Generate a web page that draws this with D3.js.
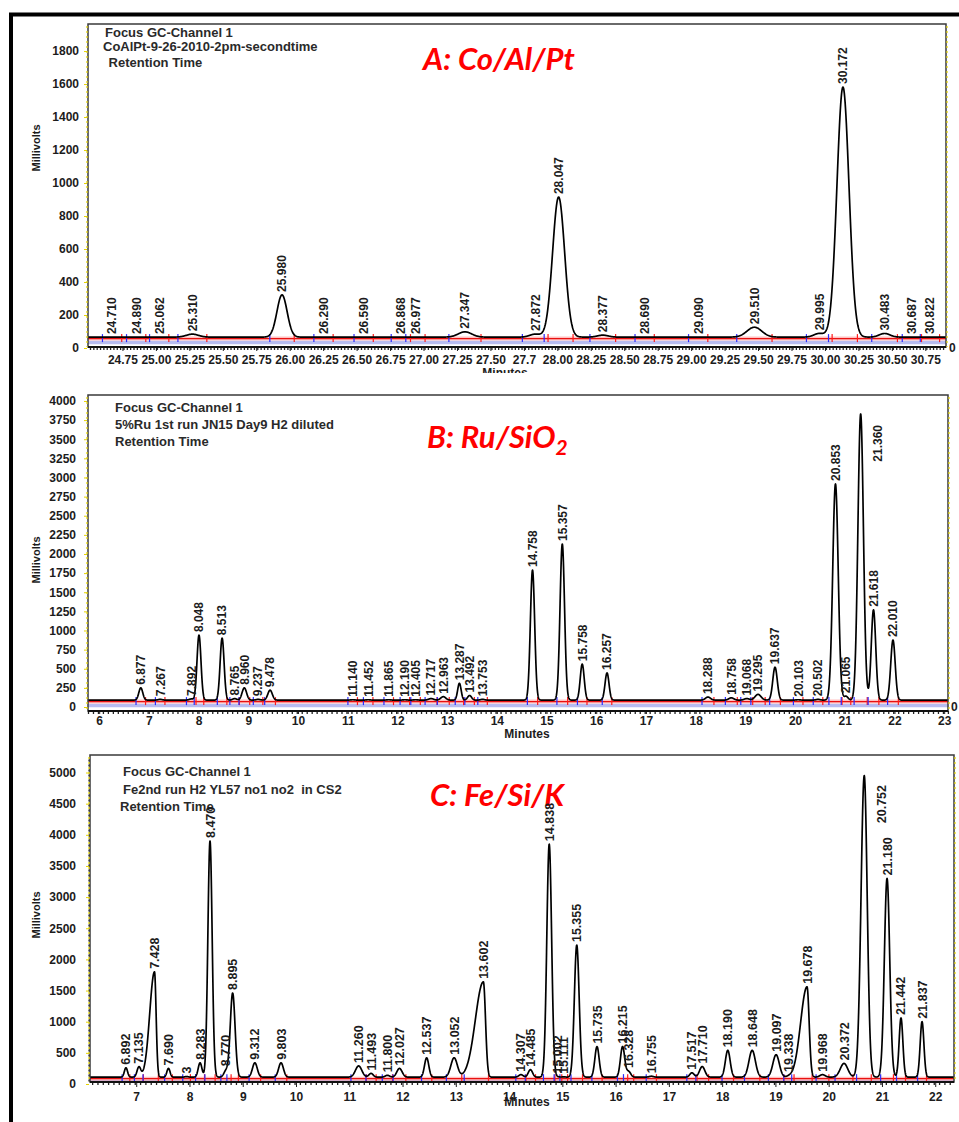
<!DOCTYPE html>
<html>
<head>
	<title>GC chromatograms A/B/C</title>
	<meta charset="utf-8">
	<style type="text/css">
		body { margin: 0; background: #fff; }
		svg { display: block; }
	</style>
</head>
<body>
<script type="text/javascript" src="https://cdn.jsdelivr.net/npm/d3@7/dist/d3.min.js"></script>
<script type="text/javascript">
	/*========= DATA: A  Co/Al/Pt =========*/
	var headerA = ["Focus GC-Channel 1", "CoAlPt-9-26-2010-2pm-secondtime", " Retention Time"];
	var timesA  = [24.710, 24.890, 25.062, 25.310, 25.980, 26.290, 26.590, 26.868, 26.977, 27.347, 27.872,
	               28.047, 28.377, 28.690, 29.090, 29.510, 29.995, 30.172, 30.483, 30.687, 30.822];
	var labelsA = ["24.710", "24.890", "25.062", "25.310", "25.980", "26.290", "26.590", "26.868", "26.977", "27.347", "27.872",
	               "28.047", "28.377", "28.690", "29.090", "29.510", "29.995", "30.172", "30.483", "30.687", "30.822"];
	var apexA   = [66, 66, 66, 84, 322, 66, 66, 66, 66, 98, 84, 915, 78, 66, 66, 126, 88, 1582, 88, 66, 66];
	var sigmaA  = [0.03, 0.03, 0.03, 0.045, 0.038, 0.03, 0.03, 0.03, 0.03, 0.05, 0.04,
	               0.045, 0.04, 0.03, 0.03, 0.055, 0.04, 0.045, 0.04, 0.03, 0.03];
	var baseA = 66;
	var xTicksA = [24.75, 25.00, 25.25, 25.50, 25.75, 26.00, 26.25, 26.50, 26.75, 27.00, 27.25, 27.50, 27.75,
	               28.00, 28.25, 28.50, 28.75, 29.00, 29.25, 29.50, 29.75, 30.00, 30.25, 30.50, 30.75];
	var xTickLabelsA = ["24.75", "25.00", "25.25", "25.50", "25.75", "26.00", "26.25", "26.50", "26.75", "27.00", "27.25", "27.50", "27.7",
	                    "28.00", "28.25", "28.50", "28.75", "29.00", "29.25", "29.50", "29.75", "30.00", "30.25", "30.50", "30.75"];
	var yTicksA = [0, 200, 400, 600, 800, 1000, 1200, 1400, 1600, 1800];

	/*========= DATA: B  Ru/SiO2 =========*/
	var headerB = ["Focus GC-Channel 1", "5%Ru 1st run JN15 Day9 H2 diluted", "Retention Time"];
	var timesB  = [6.877, 7.267, 7.892, 8.048, 8.513, 8.765, 8.960, 9.237, 9.478, 11.140, 11.452, 11.865, 12.190, 12.405,
	               12.717, 12.963, 13.287, 13.492, 13.753, 14.758, 15.357, 15.758, 16.257, 18.288, 18.758, 19.068, 19.295,
	               19.637, 20.103, 20.502, 20.853, 21.065, 21.360, 21.618, 22.010];
	var labelsB = ["6.877", "7.267", "7.892", "8.048", "8.513", "8.765", "8.960", "9.237", "9.478", "11.140", "11.452", "11.865", "12.190", "12.405",
	               "12.717", "12.963", "13.287", "13.492", "13.753", "14.758", "15.357", "15.758", "16.257", "18.288", "18.758", "19.068", "19.295",
	               "19.637", "20.103", "20.502", "20.853", "21.065", "21.360", "21.618", "22.010"];
	var apexB   = [250, 100, 105, 940, 900, 110, 250, 100, 220, 95, 95, 95, 95, 95,
	               110, 135, 310, 150, 100, 1790, 2130, 560, 445, 130, 120, 110, 165,
	               520, 95, 100, 2915, 140, 3830, 1270, 875];
	var sigmaB  = [0.04, 0.04, 0.04, 0.04, 0.04, 0.04, 0.045, 0.04, 0.045, 0.04, 0.04, 0.04, 0.04, 0.04,
	               0.05, 0.05, 0.035, 0.04, 0.04, 0.043, 0.045, 0.04, 0.04, 0.05, 0.05, 0.05, 0.06,
	               0.045, 0.04, 0.04, 0.055, 0.04, 0.055, 0.045, 0.045];
	var baseB = 90;
	var xTicksB = [6, 7, 8, 9, 10, 11, 12, 13, 14, 15, 16, 17, 18, 19, 20, 21, 22, 23];
	var xTickLabelsB = ["6", "7", "8", "9", "10", "11", "12", "13", "14", "15", "16", "17", "18", "19", "20", "21", "22", "23"];
	var yTicksB = [0, 250, 500, 750, 1000, 1250, 1500, 1750, 2000, 2250, 2500, 2750, 3000, 3250, 3500, 3750, 4000];

	/*========= DATA: C  Fe/Si/K =========*/
	var headerC = ["Focus GC-Channel 1", "Fe2nd run H2 YL57 no1 no2  in CS2", "Retention Time"];
	var timesC  = [6.892, 7.135, 7.428, 7.690, 8.030, 8.283, 8.470, 8.770, 8.895, 9.312, 9.803, 11.260, 11.493, 11.800,
	               12.027, 12.537, 13.052, 13.602, 14.307, 14.485, 14.838, 15.002, 15.111, 15.355, 15.735, 16.215,
	               16.328, 16.755, 17.517, 17.710, 18.190, 18.648, 19.097, 19.338, 19.678, 19.968, 20.372, 20.752,
	               21.180, 21.442, 21.837];
	var labelsC = ["6.892", "7.135", "7.428", "7.690", "3", "8.283", "8.470", "8.770", "8.895", "9.312", "9.803", "11.260", "11.493", "11.800",
	               "12.027", "12.537", "13.052", "13.602", "14.307", "14.485", "14.838", "15.002", "15.111", "15.355", "15.735", "16.215",
	               "16.328", "16.755", "17.517", "17.710", "18.190", "18.648", "19.097", "19.338", "19.678", "19.968", "20.372", "20.752",
	               "21.180", "21.442", "21.837"];
	var apexC   = [260, 270, 1800, 250, 120, 340, 3900, 210, 1460, 340, 340, 290, 170, 140,
	               250, 420, 420, 1640, 150, 230, 3850, 115, 115, 2230, 600, 600,
	               200, 125, 180, 280, 540, 540, 470, 120, 1560, 150, 330, 4950,
	               3300, 1060, 1000];
	var sigmaLeftC  = [0.03, 0.035, 0.09, 0.03, 0.03, 0.035, 0.04, 0.04, 0.045, 0.045, 0.045, 0.06, 0.04, 0.04,
	                   0.05, 0.04, 0.06, 0.15, 0.04, 0.04, 0.045, 0.03, 0.03, 0.045, 0.04, 0.04,
	                   0.04, 0.04, 0.04, 0.05, 0.045, 0.06, 0.06, 0.04, 0.12, 0.05, 0.07, 0.06,
	                   0.05, 0.035, 0.035];
	var sigmaRightC = [0.03, 0.035, 0.03, 0.03, 0.03, 0.035, 0.04, 0.04, 0.045, 0.045, 0.045, 0.06, 0.04, 0.04,
	                   0.05, 0.04, 0.06, 0.04, 0.04, 0.04, 0.045, 0.03, 0.03, 0.045, 0.04, 0.04,
	                   0.04, 0.04, 0.04, 0.05, 0.045, 0.06, 0.06, 0.04, 0.04, 0.05, 0.07, 0.055,
	                   0.05, 0.035, 0.035];
	var baseC = 110;
	var xTicksC = [7, 8, 9, 10, 11, 12, 13, 14, 15, 16, 17, 18, 19, 20, 21, 22];
	var xTickLabelsC = ["7", "8", "9", "10", "11", "12", "13", "14", "15", "16", "17", "18", "19", "20", "21", "22"];
	var yTicksC = [0, 500, 1000, 1500, 2000, 2500, 3000, 3500, 4000, 4500, 5000];

	/*========= SVG =========*/
	var FONT = "'Liberation Sans', Arial, sans-serif";
	var w = 959, h = 1122;
	var svg = d3.select("body").append("svg")
		.attr("width", w).attr("height", h)
		.style("font-family", FONT);

	// outer thick frame
	svg.append("rect")
		.attr("x", 11).attr("y", 14.5)
		.attr("width", 962).attr("height", 1122)
		.attr("fill", "none").attr("stroke", "#000").attr("stroke-width", 4);

	/*========= ONE CHROMATOGRAM =========*/
	function drawPanel(o) {
		var x = d3.scaleLinear().domain(o.xDomain).range([o.left, o.right]);
		var y = d3.scaleLinear().domain([0, o.yTop]).range([o.y0, o.top]);
		var g = svg.append("g").attr("class", "panel-" + o.id);

		function signal(t) {
			var v = o.base;
			for (var i = 0; i < o.times.length; i++) {
				var s = t < o.times[i] ? o.sigL[i] : o.sigR[i];
				var d = (t - o.times[i]) / s;
				if (Math.abs(d) < 8) v += (o.apex[i] - o.base) * Math.exp(-0.5 * d * d);
			}
			return v;
		}

		g.append("clipPath").attr("id", "clip-" + o.id)
			.append("rect")
			.attr("x", o.left).attr("y", o.top)
			.attr("width", o.right - o.left).attr("height", o.bottom - o.top);
		var plot = g.append("g").attr("clip-path", "url(#clip-" + o.id + ")");

		// baseline bands (integration baseline)
		var by = y(o.base);
		plot.append("line")
			.attr("x1", o.left).attr("x2", o.right)
			.attr("y1", by + o.blueOff).attr("y2", by + o.blueOff)
			.attr("stroke", "#b7bcf0").attr("stroke-width", 3.5);
		plot.append("line")
			.attr("x1", o.left).attr("x2", o.right)
			.attr("y1", by + 1.5).attr("y2", by + 1.5)
			.attr("stroke", "#ff9a9a").attr("stroke-width", 4).attr("opacity", 0.6);
		plot.append("line")
			.attr("x1", o.left).attr("x2", o.right)
			.attr("y1", by + 1.5).attr("y2", by + 1.5)
			.attr("stroke", "#e81010").attr("stroke-width", 1.2);

		// peak start / end markers
		o.times.forEach(function (t, i) {
			[[t - 2.4 * o.sigL[i], "#2a2aff"], [t + 2.4 * o.sigR[i], "#ff1a1a"]].forEach(function (m) {
				plot.append("line")
					.attr("x1", x(m[0])).attr("x2", x(m[0]))
					.attr("y1", by - 3).attr("y2", by + 5)
					.attr("stroke", m[1]).attr("stroke-width", 1.2);
			});
		});

		// detector trace
		var ts = d3.range(o.xDomain[0], o.xDomain[1], 0.003);
		var line = d3.line()
			.x(function (t) { return x(t); })
			.y(function (t) { return y(signal(t)); });
		plot.append("path").datum(ts)
			.attr("d", line)
			.attr("fill", "none").attr("stroke", "#000")
			.attr("stroke-width", 1.7).attr("stroke-linejoin", "round");

		// frame
		g.append("rect")
			.attr("x", o.left).attr("y", o.top)
			.attr("width", o.right - o.left).attr("height", o.bottom - o.top)
			.attr("fill", "none").attr("stroke", "#3a3a3a").attr("stroke-width", 1.5);
		[o.left - 1, o.right + 1].forEach(function (xx) {
			g.append("line")
				.attr("x1", xx).attr("x2", xx).attr("y1", o.top + 2).attr("y2", o.bottom)
				.attr("stroke", "#e6d400").attr("stroke-width", 1.2).attr("stroke-dasharray", "2,3");
		});
		if (o.darkLeft) {
			g.append("line")
				.attr("x1", o.left - 1).attr("x2", o.left - 1).attr("y1", o.top + 2).attr("y2", o.bottom)
				.attr("stroke", "#222").attr("stroke-width", 1.2)
				.attr("stroke-dasharray", "2,3").attr("stroke-dashoffset", 2.5);
		}

		// x axis (tick labels sit a few px right of the data positions, as in the print-out)
		var minor = d3.axisBottom(x).tickValues(d3.range(o.xDomain[0] + o.minorOff, o.xDomain[1], o.minorStep))
			.tickFormat("").tickSize(3);
		var gm = g.append("g").attr("transform", "translate(0," + o.bottom + ")").call(minor);
		gm.select(".domain").remove();
		gm.selectAll("line").attr("stroke", "#222").attr("stroke-width", 1.3);

		var xAxis = d3.axisBottom(x).tickValues(o.xTicks)
			.tickFormat(function (d, i) { return o.xTickLabels[i]; })
			.tickSize(o.tickLen).tickPadding(o.tickPad);
		var gx = g.append("g").attr("transform", "translate(" + o.tickDx + "," + o.bottom + ")").call(xAxis);
		gx.select(".domain").remove();
		gx.attr("font-family", FONT).attr("font-size", 12).attr("font-weight", "bold");
		gx.selectAll("line").attr("stroke", "#222");
		gx.selectAll("text").attr("fill", "#1c1c1c");
		g.append("line")
			.attr("x1", o.left).attr("x2", o.right).attr("y1", o.bottom).attr("y2", o.bottom)
			.attr("stroke", "#111").attr("stroke-width", 2);

		// y axis
		var yAxis = d3.axisLeft(y).tickValues(o.yTicks).tickSize(3).tickPadding(o.yPad)
			.tickFormat(d3.format("d"));
		var gy = g.append("g").attr("transform", "translate(" + (o.left - 1) + ",0)").call(yAxis);
		gy.select(".domain").remove();
		gy.attr("font-family", FONT).attr("font-size", 12).attr("font-weight", "bold");
		gy.selectAll("line").attr("stroke", "#e6d400");
		gy.selectAll("text").attr("fill", "#1c1c1c");
		if (o.rightZero) {
			g.append("text")
				.attr("x", o.right + 3).attr("y", y(0)).attr("dy", "0.35em")
				.attr("font-size", 12).attr("font-weight", "bold").attr("fill", "#1c1c1c")
				.text("0");
		}

		// axis titles
		g.append("text")
			.attr("transform", "translate(" + o.mv[0] + "," + o.mv[1] + ") rotate(-90)")
			.attr("text-anchor", "middle")
			.attr("font-size", 11).attr("font-weight", "bold").attr("fill", "#1c1c1c")
			.text("Millivolts");
		var mt = g.append("text")
			.attr("x", o.mins[0]).attr("y", o.mins[1])
			.attr("text-anchor", "middle")
			.attr("font-size", 12).attr("font-weight", "bold").attr("fill", "#1c1c1c")
			.text("Minutes");
		if (o.minsClip) {
			g.append("clipPath").attr("id", "mclip-" + o.id)
				.append("rect").attr("x", 0).attr("y", 0).attr("width", w).attr("height", o.minsClip);
			mt.attr("clip-path", "url(#mclip-" + o.id + ")");
		}

		// header text
		o.header.forEach(function (s, i) {
			g.append("text")
				.attr("x", o.head[i][0]).attr("y", o.head[i][1])
				.attr("font-size", 13).attr("font-weight", "bold").attr("fill", "#2a2a2a")
				.attr("xml:space", "preserve")
				.text(s);
		});

		// red panel title
		var tt = g.append("text")
			.attr("x", o.title[0]).attr("y", o.title[1])
			.attr("font-family", "Lato, 'Open Sans', sans-serif")
			.attr("font-size", 31).attr("font-weight", "bold").attr("font-style", "italic")
			.attr("fill", "#ff0000");
		tt.append("tspan").text(o.titleText);
		if (o.titleSub) {
			tt.append("tspan").attr("dy", 7).attr("font-size", 21).text(o.titleSub);
		}

		// peak labels (rotated retention times)
		var lg = g.append("g")
			.attr("font-size", o.labelSize).attr("font-weight", "bold").attr("fill", "#1c1c1c");
		o.times.forEach(function (t, i) {
			var px = x(t), py = y(signal(t)) - 3;
			var txt = lg.append("text").attr("dy", "0.36em").text(o.labels[i]);
			var len = txt.node().getComputedTextLength();
			if (py - len < o.top + 6) {
				txt.attr("text-anchor", "end")
					.attr("transform", "translate(" + (px + 17) + "," + (o.top + 30) + ") rotate(-90)");
			} else {
				txt.attr("text-anchor", "start")
					.attr("transform", "translate(" + px + "," + py + ") rotate(-90)");
			}
		});
	}

	drawPanel({
		id: "A", times: timesA, labels: labelsA, apex: apexA, sigL: sigmaA, sigR: sigmaA, base: baseA,
		xTicks: xTicksA, xTickLabels: xTickLabelsA, yTicks: yTicksA,
		xDomain: [24.53, 30.942], yTop: 1964,
		left: 88, right: 946, top: 24, bottom: 347, y0: 348,
		blueOff: 5.5, minorStep: 0.025, minorOff: 0.015, tickLen: 4, tickPad: 4, tickDx: 5, yPad: 5,
		rightZero: true, mv: [40, 148], mins: [505, 377], minsClip: 373, labelSize: 12,
		header: headerA, head: [[105, 37], [103, 51], [105, 67]],
		title: [423, 70], titleText: "A: Co/Al/Pt"
	});

	drawPanel({
		id: "B", times: timesB, labels: labelsB, apex: apexB, sigL: sigmaB, sigR: sigmaB, base: baseB,
		xTicks: xTicksB, xTickLabels: xTickLabelsB, yTicks: yTicksB,
		xDomain: [5.815, 23.117], yTop: 4078,
		left: 88, right: 948, top: 395, bottom: 711, y0: 707,
		blueOff: 5.5, minorStep: 0.1, minorOff: 0.0, tickLen: 3, tickPad: 2, tickDx: 2, yPad: 8,
		rightZero: true, mv: [40, 560], mins: [527, 738], labelSize: 12,
		header: headerB, head: [[115, 412], [115, 429], [115, 446]],
		title: [427, 448], titleText: "B: Ru/SiO", titleSub: "2"
	});

	drawPanel({
		id: "C", times: timesC, labels: labelsC, apex: apexC, sigL: sigmaLeftC, sigR: sigmaRightC, base: baseC,
		xTicks: xTicksC, xTickLabels: xTickLabelsC, yTicks: yTicksC,
		xDomain: [6.217, 22.437], yTop: 5281,
		left: 90, right: 954, top: 755, bottom: 1082, y0: 1084,
		blueOff: 4.5, minorStep: 0.1, minorOff: 0.04, tickLen: 5, tickPad: 5, tickDx: 4.5, yPad: 10,
		rightZero: false, darkLeft: true, mv: [40, 915], mins: [527, 1106], labelSize: 12.5,
		header: headerC, head: [[123, 776], [123, 794], [120, 811]],
		title: [430, 806], titleText: "C: Fe/Si/K"
	});
</script>
</body>
</html>
